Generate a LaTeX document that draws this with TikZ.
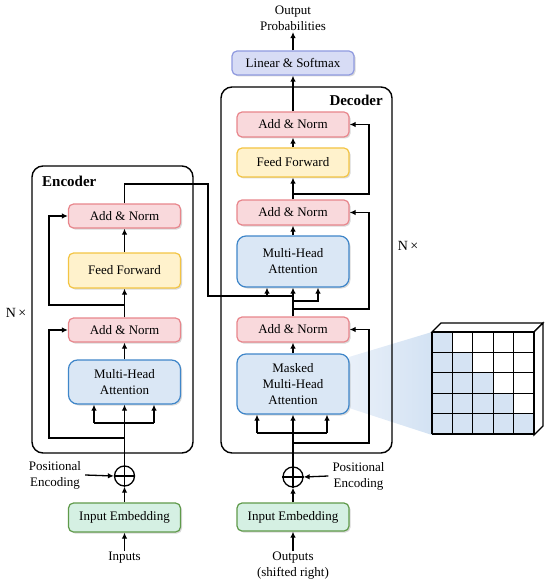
\documentclass[tikz,border=0pt]{standalone}
\usepackage{fontspec}
\setmainfont{Liberation Serif}
\usetikzlibrary{arrows.meta,shadows,calc}
\definecolor{anfill}{HTML}{F9D9DC}
\definecolor{andraw}{HTML}{E8868C}
\definecolor{fffill}{HTML}{FFF2CC}
\definecolor{ffdraw}{HTML}{F3C443}
\definecolor{mhafill}{HTML}{DAE7F5}
\definecolor{mhadraw}{HTML}{3F86C9}
\definecolor{embfill}{HTML}{D5F0E3}
\definecolor{embdraw}{HTML}{5F9A4A}
\definecolor{linfill}{HTML}{D7DCF5}
\definecolor{lindraw}{HTML}{8F9AE0}
\definecolor{cellfill}{HTML}{D5E3F3}
\definecolor{wedgeL}{HTML}{E9F0F9}
\definecolor{wedgeR}{HTML}{D3E2F3}
\begin{document}
\begin{tikzpicture}[x=1pt,y=-1pt,
  font=\fontsize{13}{16}\selectfont,
  blk/.style={draw, rounded corners=5pt, line width=1.2pt, minimum width=112pt, align=center, inner sep=2pt,
    drop shadow={shadow xshift=1.5pt,shadow yshift=-1.5pt,opacity=0.3,fill=black!50}},
  an/.style={blk, fill=anfill, draw=andraw, minimum height=24pt},
  ff/.style={blk, fill=fffill, draw=ffdraw},
  mha/.style={blk, fill=mhafill, draw=mhadraw, rounded corners=9pt},
  emb/.style={blk, fill=embfill, draw=embdraw},
  lin/.style={blk, fill=linfill, draw=lindraw, minimum width=122pt, minimum height=24pt},
  cont/.style={draw, rounded corners=11pt, line width=1.4pt, inner sep=0pt},
  con/.style={line width=1.3pt},
  arr/.style={con, -{Latex[length=6pt,width=5.5pt]}},
  plus/.style={circle, draw, line width=1.3pt, minimum size=20pt, inner sep=0pt},
  lbl/.style={align=center, inner sep=1pt},
  side/.style={align=center, inner sep=4pt},
  ttl/.style={font=\fontsize{15}{18}\selectfont\bfseries, inner sep=0pt},
  nx/.style={font=\fontsize{14}{16}\selectfont, inner sep=0pt}
]
\useasboundingbox (0,0) rectangle (550,585);

% projection wedge
\shade[left color=wedgeL, right color=wedgeR] (349,357) -- (432,332) -- (432,435) -- (349,408) -- cycle;

% containers
\node[cont, minimum width=161pt, minimum height=287pt] (enc) at (112.5,309.5) {};
\node[cont, minimum width=171pt, minimum height=366pt] (dec) at (306.5,270) {};
\node[ttl, anchor=west] (enct) at (42,181) {Encoder};
\node[ttl, anchor=east] (dect) at (383,100) {Decoder};
\node[nx] (nxl) at (16,313) {N\,×};
\node[nx] (nxr) at (408,246) {N\,×};

% encoder nodes
\node[an] (ean2) at (124.5,216) {Add \& Norm};
\node[ff, minimum height=35pt] (eff) at (124.5,270.5) {Feed Forward};
\node[an] (ean1) at (124.5,330) {Add \& Norm};
\node[mha, minimum height=44pt] (emha) at (124.5,382) {Multi-Head\\Attention};
\node[plus] (ep) at (124.5,476) {};
\node[emb, minimum height=29pt] (eemb) at (124.5,517.5) {Input Embedding};
\node[lbl] (inp) at (124.5,558) {Inputs};
\node[side] (pel) at (55,475) {Positional\\Encoding};

% decoder nodes
\node[lbl] (outp) at (293,18.5) {Output\\Probabilities};
\node[lin] (lin) at (293,63) {Linear \& Softmax};
\node[an, minimum height=25pt] (dan3) at (293,124.5) {Add \& Norm};
\node[ff, minimum height=29pt] (dff) at (293,162.5) {Feed Forward};
\node[an, minimum height=25pt] (dan2) at (293,212.5) {Add \& Norm};
\node[mha, minimum height=51pt] (dmha) at (293,261.5) {Multi-Head\\Attention};
\node[an, minimum height=25pt] (dan1) at (293,329.5) {Add \& Norm};
\node[mha, minimum height=60pt] (dmm) at (293,384) {Masked\\Multi-Head\\Attention};
\node[plus] (dp) at (293,477) {};
\node[emb, minimum height=28pt] (demb) at (293,517) {Input Embedding};
\node[lbl] (outs) at (293,566) {Outputs\\(shifted right)};
\node[side] (per) at (358.5,476) {Positional\\Encoding};

% plus signs
\draw[con] (ep.north) -- (ep.south) (ep.west) -- (ep.east);
\draw[con] (dp.north) -- (dp.south) (dp.west) -- (dp.east);

% ---------- encoder connectors
\draw[arr] (inp.north) -- (eemb.south);
\draw[arr] (eemb.north) -- (ep.south);
\draw[arr] (pel.east) -- (ep.west);
\draw[arr] (ep.north) -- (emha.south);
\coordinate (ebl) at (94,423);
\coordinate (ebr) at (154,423);
\draw[con] (ebl) -- (ebr);
\draw[arr] (ebl) -- (ebl |- emha.south);
\draw[arr] (ebr) -- (ebr |- emha.south);
\coordinate (er1) at (124.5,438);
\coordinate (el1) at (49,438);
\draw[arr] (er1) -- (el1) |- (ean1.west);
\draw[arr] (emha.north) -- (ean1.south);
\draw[arr] (ean1.north) -- (eff.south);
\coordinate (er2) at (124.5,305);
\coordinate (el2) at (49,305);
\draw[arr] (er2) -- (el2) |- (ean2.west);
\draw[arr] (eff.north) -- (ean2.south);

% encoder -> decoder cross connection
\coordinate (x1) at (124.5,184);
\coordinate (x2) at (208,184);
\coordinate (x3) at (208,296);
\coordinate (xk) at (267,296);
\coordinate (xv) at (293,296);
\draw[con] (ean2.north) -- (x1) -- (x2) -- (x3) -- (xv);
\draw[arr] (xk) -- (xk |- dmha.south);

% ---------- decoder connectors
\draw[arr] (outs.north) -- (demb.south);
\draw[arr] (demb.north) -- (dp.south);
\draw[arr] (per.west) -- (dp.east);
\draw[arr] (dp.north) -- (dmm.south);
\coordinate (dbl) at (257,433);
\coordinate (dbr) at (327,433);
\draw[con] (dbl) -- (dbr);
\draw[arr] (dbl) -- (dbl |- dmm.south);
\draw[arr] (dbr) -- (dbr |- dmm.south);
\coordinate (dr1) at (293,443);
\coordinate (dl1) at (369,443);
\draw[arr] (dr1) -- (dl1) |- (dan1.east);
\draw[arr] (dmm.north) -- (dan1.south);
\draw[arr] (dan1.north) -- (dmha.south);
\coordinate (dq1) at (293,301);
\coordinate (dq2) at (318,301);
\draw[arr] (dq1) -- (dq2) -- (dq2 |- dmha.south);
\coordinate (dr2) at (293,309);
\coordinate (dl2) at (369,309);
\draw[arr] (dr2) -- (dl2) |- (dan2.east);
\draw[arr] (dmha.north) -- (dan2.south);
\draw[arr] (dan2.north) -- (dff.south);
\coordinate (dr3) at (293,194);
\coordinate (dl3) at (369,194);
\draw[arr] (dr3) -- (dl3) |- (dan3.east);
\draw[arr] (dff.north) -- (dan3.south);
\draw[arr] (dan3.north) -- (lin.south);
\draw[arr] (lin.north) -- (outp.south);

% ---------- attention mask matrix (lower triangle incl. diagonal shaded)
\foreach \rr/\cc in {0/0, 1/0, 1/1, 2/0, 2/1, 2/2, 3/0, 3/1, 3/2, 3/3, 4/0, 4/1, 4/2, 4/3, 4/4} {
  \fill[cellfill] ({432+\cc*20.4},{332+\rr*20.4}) rectangle ++(20.4,20.4);
}
\draw[line width=1.1pt, fill=white] (432,332) -- (441,323) -- (543,323) -- (534,332) -- cycle;
\draw[line width=1.1pt, fill=white] (534,332) -- (543,323) -- (543,426) -- (534,435) -- cycle;
\foreach \k in {0,...,5} {
  \draw[line width=1.1pt] ({432+\k*20.4},332) -- ({432+\k*20.4},434);
  \draw[line width=1.1pt] (432,{332+\k*20.4}) -- (534,{332+\k*20.4});
}
\end{tikzpicture}
\end{document}
